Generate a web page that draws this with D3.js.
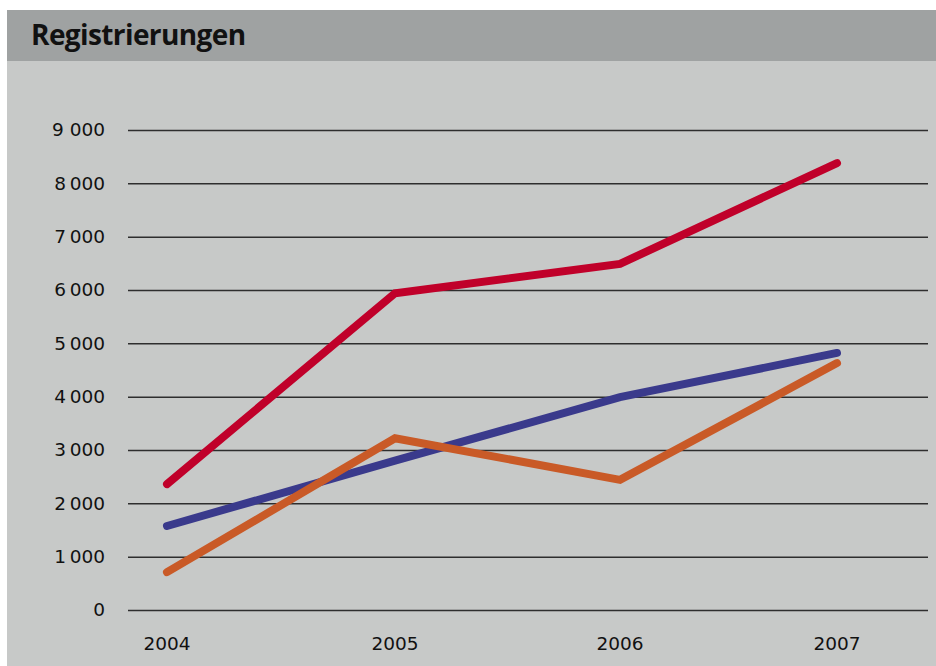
<!DOCTYPE html>
<html>
<head>
<meta charset="utf-8">
<script src="https://cdn.jsdelivr.net/npm/d3@7/dist/d3.min.js"></script>
<style>
  html, body { margin: 0; padding: 0; background: #ffffff; }
  svg { display: block; }
</style>
</head>
<body>
<svg id="chart" width="936" height="666"></svg>
<script>
const title = "Registrierungen";
const years = ["2004", "2005", "2006", "2007"];
const redSeries = [2360, 5940, 6490, 8380];
const blueSeries = [1575, 2800, 3990, 4820];
const orangeSeries = [710, 3220, 2440, 4630];
const yTicks = [0, 1000, 2000, 3000, 4000, 5000, 6000, 7000, 8000, 9000];
const yTickLabels = ["0", "1\u2009000", "2\u2009000", "3\u2009000", "4\u2009000", "5\u2009000", "6\u2009000", "7\u2009000", "8\u2009000", "9 000"];

const svg = d3.select("#chart");
const W = 936, H = 666;

// panel backgrounds
svg.append("rect").attr("x", 7).attr("y", 10).attr("width", W - 7).attr("height", 51).attr("fill", "#9fa2a2");
svg.append("rect").attr("x", 7).attr("y", 61).attr("width", W - 7).attr("height", H - 61).attr("fill", "#c7c9c8");

svg.append("text")
  .attr("x", 31).attr("y", 45)
  .attr("font-family", "'Open Sans', sans-serif")
  .attr("font-weight", 700)
  .attr("font-size", 28)
  .attr("letter-spacing", -0.6)
  .attr("fill", "#111")
  .text(title);

const x = d3.scaleOrdinal().domain(years).range([167, 395, 620, 837]);
const y = d3.scaleLinear().domain([0, 9000]).range([610, 130]);

const labelFont = "'DejaVu Sans', sans-serif";
const labelSize = 18.5;

// gridlines via axis
const yAxis = d3.axisLeft(y)
  .tickValues(yTicks)
  .tickSize(-(928 - 128))
  .tickPadding(23)
  .tickFormat((d, i) => yTickLabels[i]);
const gy = svg.append("g").attr("transform", "translate(128,0)").call(yAxis);
gy.select(".domain").remove();
gy.selectAll(".tick line").attr("stroke", "#2e2e2e").attr("stroke-width", 1.5);
gy.selectAll(".tick text")
  .attr("font-family", labelFont)
  .attr("font-size", labelSize)
  .attr("fill", "#111");

const gx = svg.append("g").attr("transform", "translate(0,637)");
gx.selectAll("text")
  .data(years)
  .join("text")
  .attr("x", d => x(d))
  .attr("dy", "0.71em")
  .attr("text-anchor", "middle")
  .attr("font-family", labelFont)
  .attr("font-size", labelSize)
  .attr("fill", "#111")
  .text(d => d);

const line = d3.line().x((d, i) => x(years[i])).y(d => y(d));
const series = [
  { values: blueSeries, color: "#3a3a8c" },
  { values: orangeSeries, color: "#c95a27" },
  { values: redSeries, color: "#c0002a" }
];
svg.selectAll("path.series")
  .data(series)
  .join("path")
  .attr("class", "series")
  .attr("d", d => line(d.values))
  .attr("fill", "none")
  .attr("stroke", d => d.color)
  .attr("stroke-width", 8)
  .attr("stroke-linecap", "round")
  .attr("stroke-linejoin", "miter");
</script>
</body>
</html>
